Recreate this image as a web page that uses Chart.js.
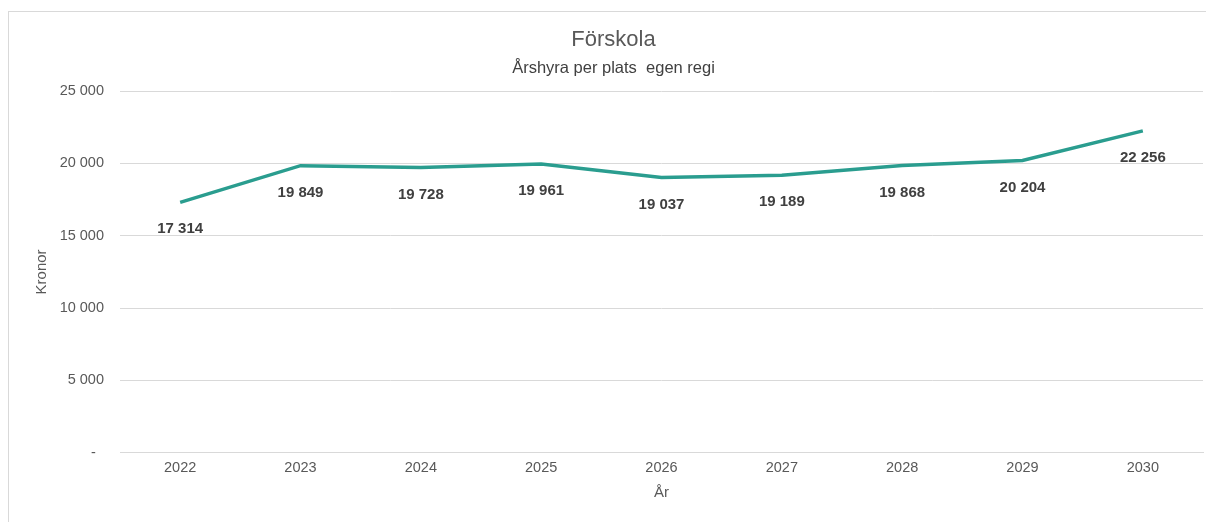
<!DOCTYPE html>
<html>
<head>
<meta charset="utf-8">
<script src="https://cdn.jsdelivr.net/npm/chart.js@4"></script>
<style>
  html, body { margin: 0; padding: 0; background: #fff; }
  #wrap { position: relative; width: 1206px; height: 522px; }
</style>
</head>
<body>
<div id="wrap"><canvas id="chart"></canvas></div>
<script>
const years = ['2022', '2023', '2024', '2025', '2026', '2027', '2028', '2029', '2030'];
const rent = [17314, 19849, 19728, 19961, 19037, 19189, 19868, 20204, 22256];
const yTicks = [0, 5000, 10000, 15000, 20000, 25000];

const FONT = '"Liberation Sans", Arial, sans-serif';

function fmt(v) {
    return String(v).replace(/\B(?=(\d{3})+(?!\d))/g, ' ');
}

// light frame around the chart, like the exported office chart
const frame = {
    id: 'frame',
    beforeDraw(chart) {
        const c = chart.ctx;
        c.save();
        c.strokeStyle = '#d9d9d9';
        c.lineWidth = 1;
        c.strokeRect(8.5, 11.5, 1220, 530);
        c.restore();
    }
};

// value labels under each point
const valueLabels = {
    id: 'valueLabels',
    afterDatasetsDraw(chart) {
        const c = chart.ctx;
        const meta = chart.getDatasetMeta(0);
        c.save();
        c.font = 'bold 15px ' + FONT;
        c.fillStyle = '#404040';
        c.textAlign = 'center';
        c.textBaseline = 'middle';
        meta.data.forEach((pt, i) => {
            c.fillText(fmt(rent[i]), pt.x, pt.y + 27);
        });
        c.restore();
    }
};

const ctx = document.getElementById('chart').getContext('2d');
new Chart(ctx, {
    type: 'line',
    data: {
        labels: years,
        datasets: [{
            label: 'Årshyra per plats',
            data: rent,
            borderColor: '#2a9d8f',
            borderWidth: 3.5,
            pointRadius: 0,
            tension: 0,
            fill: false
        }]
    },
    options: {
        responsive: true,
        maintainAspectRatio: false,
        animation: false,
        layout: { padding: { top: 15, right: 3, bottom: 20, left: 24 } },
        plugins: {
            legend: { display: false },
            tooltip: { enabled: false },
            title: {
                display: true,
                text: 'Förskola',
                color: '#595959',
                font: { family: FONT, size: 22, weight: 'normal' },
                padding: { top: 12, bottom: 5 }
            },
            subtitle: {
                display: true,
                text: 'Årshyra per plats  egen regi',
                color: '#404040',
                font: { family: FONT, size: 16.5 },
                padding: { top: 0, bottom: 13 }
            }
        },
        scales: {
            x: {
                offset: true,
                grid: { display: false, drawTicks: false },
                border: { display: true, color: '#d9d9d9', width: 1 },
                ticks: {
                    color: '#595959',
                    font: { family: FONT, size: 14.5 },
                    padding: 7,
                    maxRotation: 0
                },
                title: {
                    display: true,
                    text: 'År',
                    color: '#595959',
                    font: { family: FONT, size: 15 },
                    padding: { top: 0, bottom: 0 }
                }
            },
            y: {
                min: 0,
                max: 25000,
                afterBuildTicks(scale) {
                    scale.ticks = yTicks.map(v => ({ value: v }));
                },
                afterFit(scale) {
                    scale.width = 96;
                },
                grid: { color: '#d9d9d9', lineWidth: 1, drawTicks: false },
                border: { display: false },
                ticks: {
                    color: '#595959',
                    font: { family: FONT, size: 14.5 },
                    padding: 16,
                    callback: v => v === 0 ? '-  ' : fmt(v)
                },
                title: {
                    display: true,
                    text: 'Kronor',
                    color: '#595959',
                    font: { family: FONT, size: 15 },
                    padding: { top: 9, bottom: 0 }
                }
            }
        }
    },
    plugins: [frame, valueLabels]
});
</script>
</body>
</html>
